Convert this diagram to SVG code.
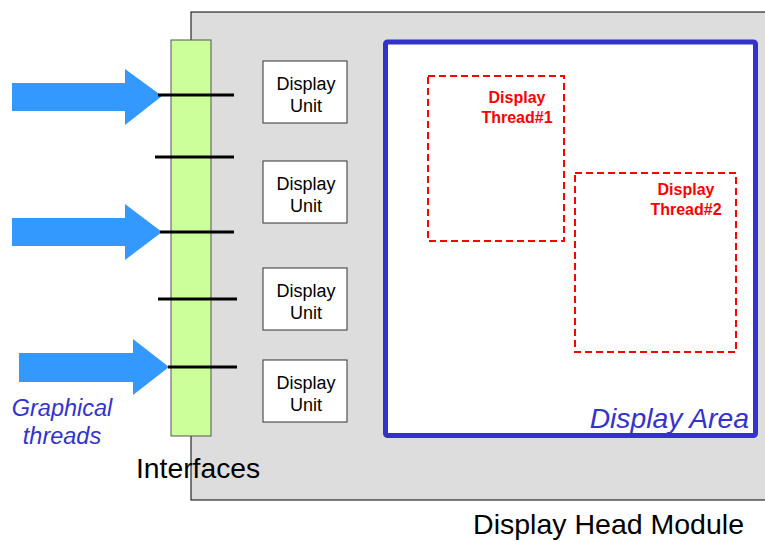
<svg xmlns="http://www.w3.org/2000/svg" width="765" height="541" viewBox="0 0 765 541">
<style>
text{font-family:"Liberation Sans",Arial,sans-serif}
.unit rect{fill:#fff;stroke:#333;stroke-width:1}
.unit text{font-size:18px;fill:#000;text-anchor:middle}
.arrow{fill:#3399FF}
.tick{stroke:#000;stroke-width:3}
.thread rect{fill:none;stroke:#FF0000;stroke-width:2;stroke-dasharray:7,4}
.thread text{font-size:16px;font-weight:bold;fill:#FF0000;text-anchor:middle}
.blue{fill:#3333CC;font-style:italic}
</style>
<rect width="765" height="541" fill="#fff"/>
<g id="module">
<rect x="191" y="12" width="590" height="488" fill="#DDDDDD" stroke="#000" stroke-width="1"/>
<text x="744" y="534" font-size="28.5" text-anchor="end" fill="#000">Display Head Module</text>
</g>
<g id="display-area">
<rect x="385.5" y="42" width="370" height="393.5" rx="2" fill="#fff" stroke="#3333CC" stroke-width="5"/>
<text class="blue" x="749" y="428" font-size="28.3" text-anchor="end">Display Area</text>
</g>
<g id="thread1" class="thread">
<rect x="428" y="76" width="136" height="165"/>
<text x="517" y="103">Display</text>
<text x="517" y="123">Thread#1</text>
</g>
<g id="thread2" class="thread">
<rect x="575" y="173" width="161" height="179"/>
<text x="686" y="195">Display</text>
<text x="686" y="215">Thread#2</text>
</g>
<g id="interfaces">
<rect x="171" y="40" width="40" height="396" fill="#CCFF99" stroke="#555" stroke-width="1"/>
<text x="136" y="478" font-size="28.3" fill="#000">Interfaces</text>
</g>
<g id="unit1" class="unit"><rect x="263" y="61" width="84" height="62"/><text x="306" y="90">Display</text><text x="306" y="112">Unit</text></g>
<g id="unit2" class="unit"><rect x="263" y="161" width="84" height="62"/><text x="306" y="190">Display</text><text x="306" y="212">Unit</text></g>
<g id="unit3" class="unit"><rect x="263" y="268" width="84" height="62"/><text x="306" y="297">Display</text><text x="306" y="319">Unit</text></g>
<g id="unit4" class="unit"><rect x="263" y="360" width="84" height="62"/><text x="306" y="389">Display</text><text x="306" y="411">Unit</text></g>
<g id="graphical-threads">
<text class="blue" x="62" y="416" font-size="23.5" text-anchor="middle">Graphical</text>
<text class="blue" x="62" y="444" font-size="23.5" text-anchor="middle">threads</text>
</g>
<g id="connectors">
<polygon class="arrow" points="12,83 125,83 125,69 162,96 125,125 125,111 12,111"/>
<polygon class="arrow" points="12,218 125,218 125,204 162,232 125,260 125,246 12,246"/>
<polygon class="arrow" points="19,353 133,353 133,339 169,367 133,395 133,382 19,382"/>
<line class="tick" x1="158" y1="95" x2="234" y2="95"/>
<line class="tick" x1="155" y1="157" x2="234" y2="157"/>
<line class="tick" x1="160" y1="232" x2="234" y2="232"/>
<line class="tick" x1="158" y1="299" x2="237" y2="299"/>
<line class="tick" x1="168" y1="367" x2="237" y2="367"/>
</g>
</svg>
